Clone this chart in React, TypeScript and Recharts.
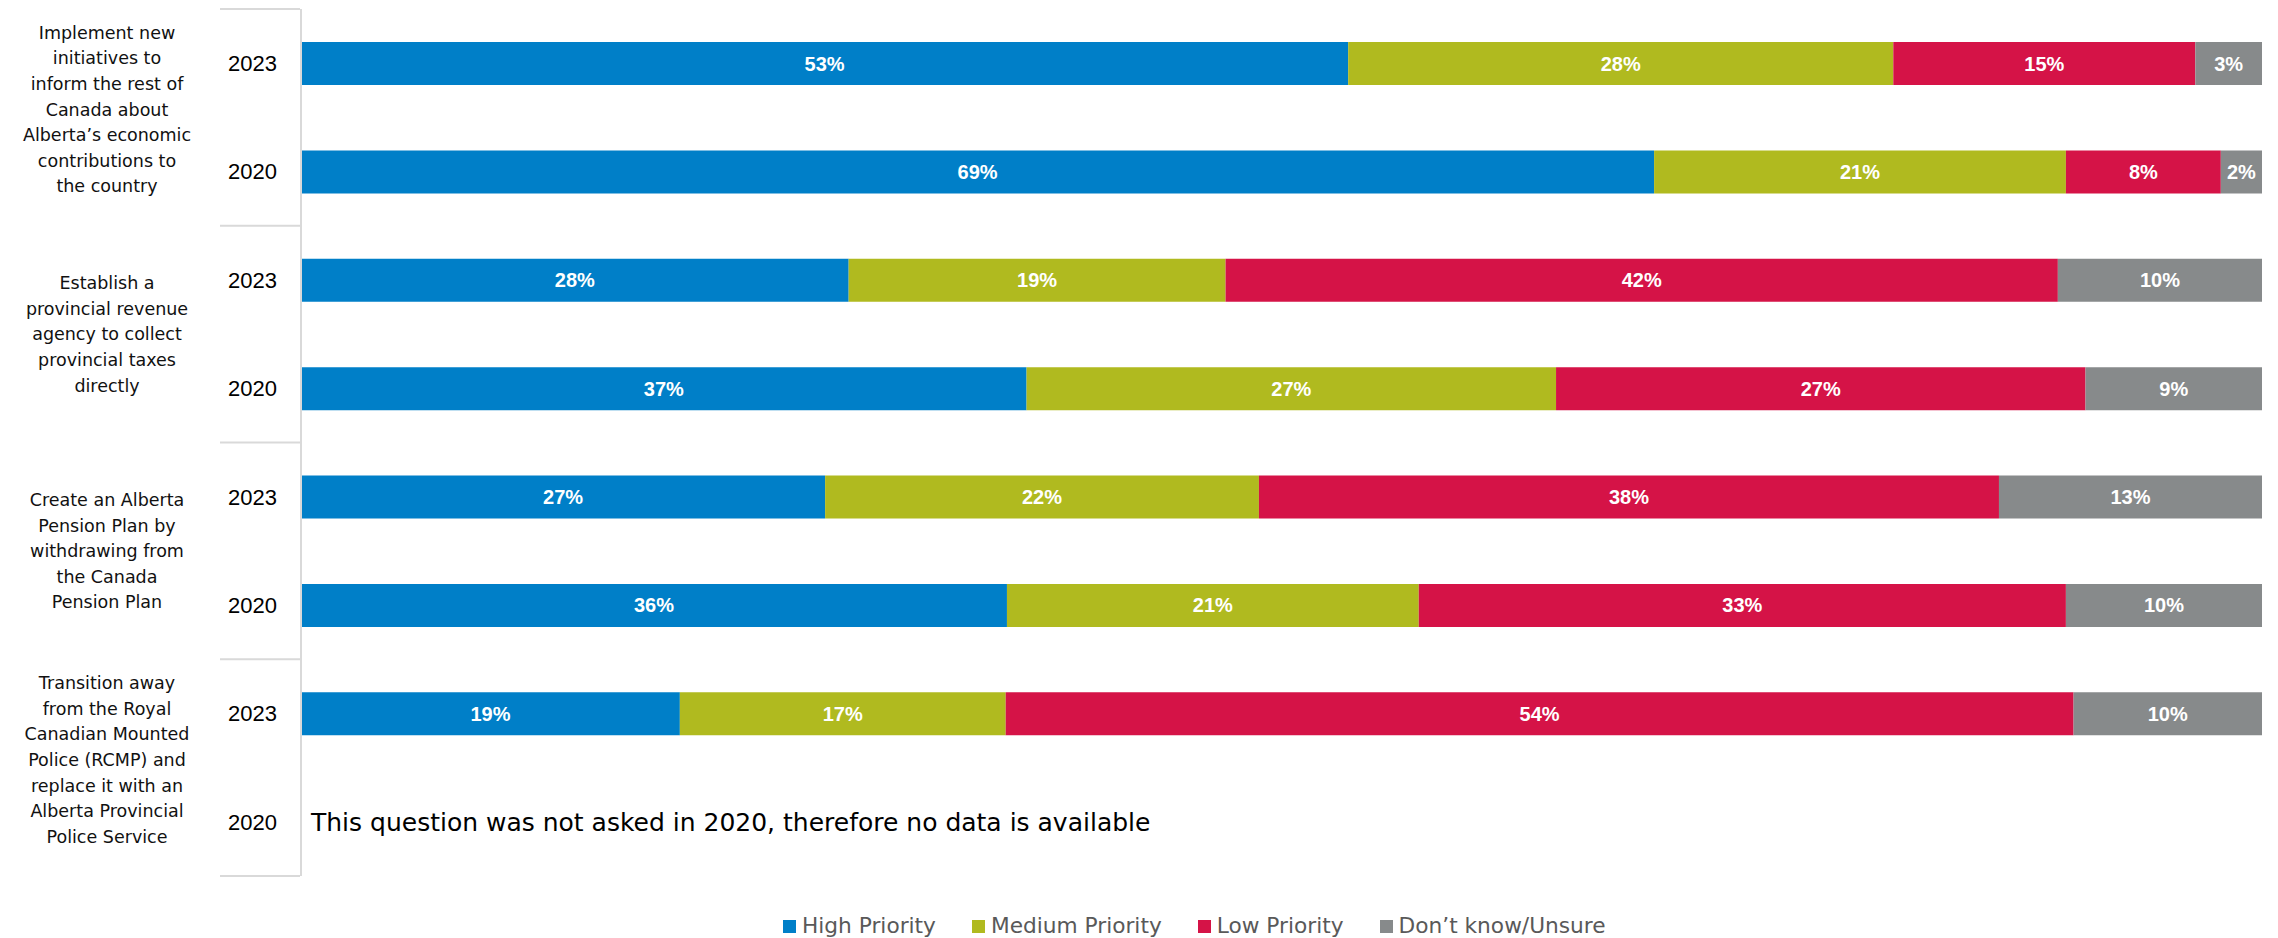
import React from 'react';
import { BarChart, Bar, XAxis, YAxis, LabelList, Legend } from 'recharts';

// ---- data ----
const rowIds = ['r0', 'r1', 'r2', 'r3', 'r4', 'r5', 'r6', 'r7'];
const years = ['2023', '2020', '2023', '2020', '2023', '2020', '2023', '2020'];
const groupLabels: string[][] = [
  ['Implement new', 'initiatives to', 'inform the rest of', 'Canada about', 'Alberta’s economic', 'contributions to', 'the country'],
  ['Establish a', 'provincial revenue', 'agency to collect', 'provincial taxes', 'directly'],
  ['Create an Alberta', 'Pension Plan by', 'withdrawing from', 'the Canada', 'Pension Plan'],
  ['Transition away', 'from the Royal', 'Canadian Mounted', 'Police (RCMP) and', 'replace it with an', 'Alberta Provincial', 'Police Service'],
];
const highPriority: (number | null)[] = [53.4, 69.0, 27.9, 37.0, 26.7, 36.0, 19.3, null];
const mediumPriority: (number | null)[] = [27.8, 21.0, 19.2, 27.0, 22.1, 21.0, 16.6, null];
const lowPriority: (number | null)[] = [15.4, 7.9, 42.4, 27.0, 37.7, 33.0, 54.4, null];
const dontKnow: (number | null)[] = [3.4, 2.1, 10.4, 9.0, 13.4, 10.0, 9.6, null];
const notes = ['', '', '', '', '', '', '', 'This question was not asked in 2020, therefore no data is available'];

const seriesKeys = ['high', 'medium', 'low', 'dk'];
const seriesNames = ['High Priority', 'Medium Priority', 'Low Priority', 'Don’t know/Unsure'];
const seriesColors = ['#007FC8', '#B0BA1F', '#D51347', '#878A8B'];

const data = rowIds.map((id, i) => ({
  id,
  year: years[i],
  note: notes[i],
  high: highPriority[i],
  medium: mediumPriority[i],
  low: lowPriority[i],
  dk: dontKnow[i],
}));

// ---- layout ----
const CHART_W = 2270;
const CHART_H = 930;
const MARGIN = { top: 1, right: 16, left: 0, bottom: 36 };
const PLOT_H = 867;
const ROW_HALF = PLOT_H / data.length / 2;

const CategoryTick = (props: any) => {
  const { payload } = props;
  const i: number = payload?.index ?? props.index ?? 0;
  const y: number = payload?.coordinate ?? props.y;
  const half = typeof payload?.offset === 'number' && payload.offset > 0 ? payload.offset : ROW_HALF;
  const row = data[i];
  const els: React.ReactNode[] = [];
  els.push(
    <text key="yr" x={269} y={y} dy="0.36em" textAnchor="end" fontFamily="Liberation Sans, Arial, sans-serif" fontSize={22} fill="#000">
      {row?.year}
    </text>
  );
  if (i % 2 === 0) {
    const lines = groupLabels[i / 2] || [];
    const lh = 25.6;
    const center = y + half - Math.max(0, lines.length - 5) * 4;
    const startY = center - ((lines.length - 1) * lh) / 2;
    els.push(
      <text key="grp" x={99} textAnchor="middle" fontFamily="DejaVu Sans, sans-serif" fontSize={17.5} fill="#111">
        {lines.map((l, k) => (
          <tspan key={k} x={99} y={startY + k * lh} dy="0.36em">{l}</tspan>
        ))}
      </text>
    );
    els.push(<line key="sep" x1={212} x2={292} y1={y - half} y2={y - half} stroke="#D9D9D9" strokeWidth={2} />);
  }
  if (i === data.length - 1) {
    els.push(<line key="sepb" x1={212} x2={292} y1={y + half} y2={y + half} stroke="#D9D9D9" strokeWidth={2} />);
  }
  if (row?.note) {
    els.push(
      <text key="note" x={303} y={y} dy="0.36em" textAnchor="start" fontFamily="DejaVu Sans, sans-serif" fontSize={25} fill="#000">
        {row.note}
      </text>
    );
  }
  return <g>{els}</g>;
};

const renderLegend = () => (
  <div
    style={{
      display: 'flex',
      alignItems: 'center',
      paddingLeft: 775,
      height: 26,
      lineHeight: '26px',
      fontFamily: 'DejaVu Sans, sans-serif',
      fontSize: 21.7,
      color: '#595959',
      whiteSpace: 'nowrap',
    }}
  >
    {seriesNames.map((n, i) => (
      <div key={n} style={{ display: 'flex', alignItems: 'center', marginRight: 36 }}>
        <span style={{ display: 'inline-block', width: 13, height: 13, background: seriesColors[i], marginRight: 6 }} />
        <span>{n}</span>
      </div>
    ))}
  </div>
);

const labelFmt = (v: any) => (v === null || v === undefined ? '' : `${Math.round(Number(v))}%`);

export default function App() {
  return (
    <div>
      <style>{'html,body{overflow:hidden;}'}</style>
      <BarChart
        width={CHART_W}
        height={CHART_H}
        data={data}
        layout="vertical"
        stackOffset="expand"
        margin={MARGIN}
      >
        <XAxis type="number" hide domain={[0, 1]} />
        <YAxis
          type="category"
          dataKey="id"
          width={293}
          tickLine={false}
          axisLine={{ stroke: '#D9D9D9', strokeWidth: 2 }}
          tick={<CategoryTick />}
          interval={0}
        />
        <Legend
          verticalAlign="bottom"
          content={renderLegend}
          wrapperStyle={{ left: 0, width: CHART_W, top: 905, bottom: 'auto' }}
        />
        {seriesKeys.map((k, i) => (
          <Bar key={k} dataKey={k} name={seriesNames[i]} stackId="a" fill={seriesColors[i]} barSize={43} isAnimationActive={false}>
            <LabelList
              dataKey={k}
              position="center"
              formatter={labelFmt}
              fill="#FFFFFF"
              fontFamily="Liberation Sans, Arial, sans-serif"
              fontWeight="bold"
              fontSize={20}
            />
          </Bar>
        ))}
      </BarChart>
    </div>
  );
}
